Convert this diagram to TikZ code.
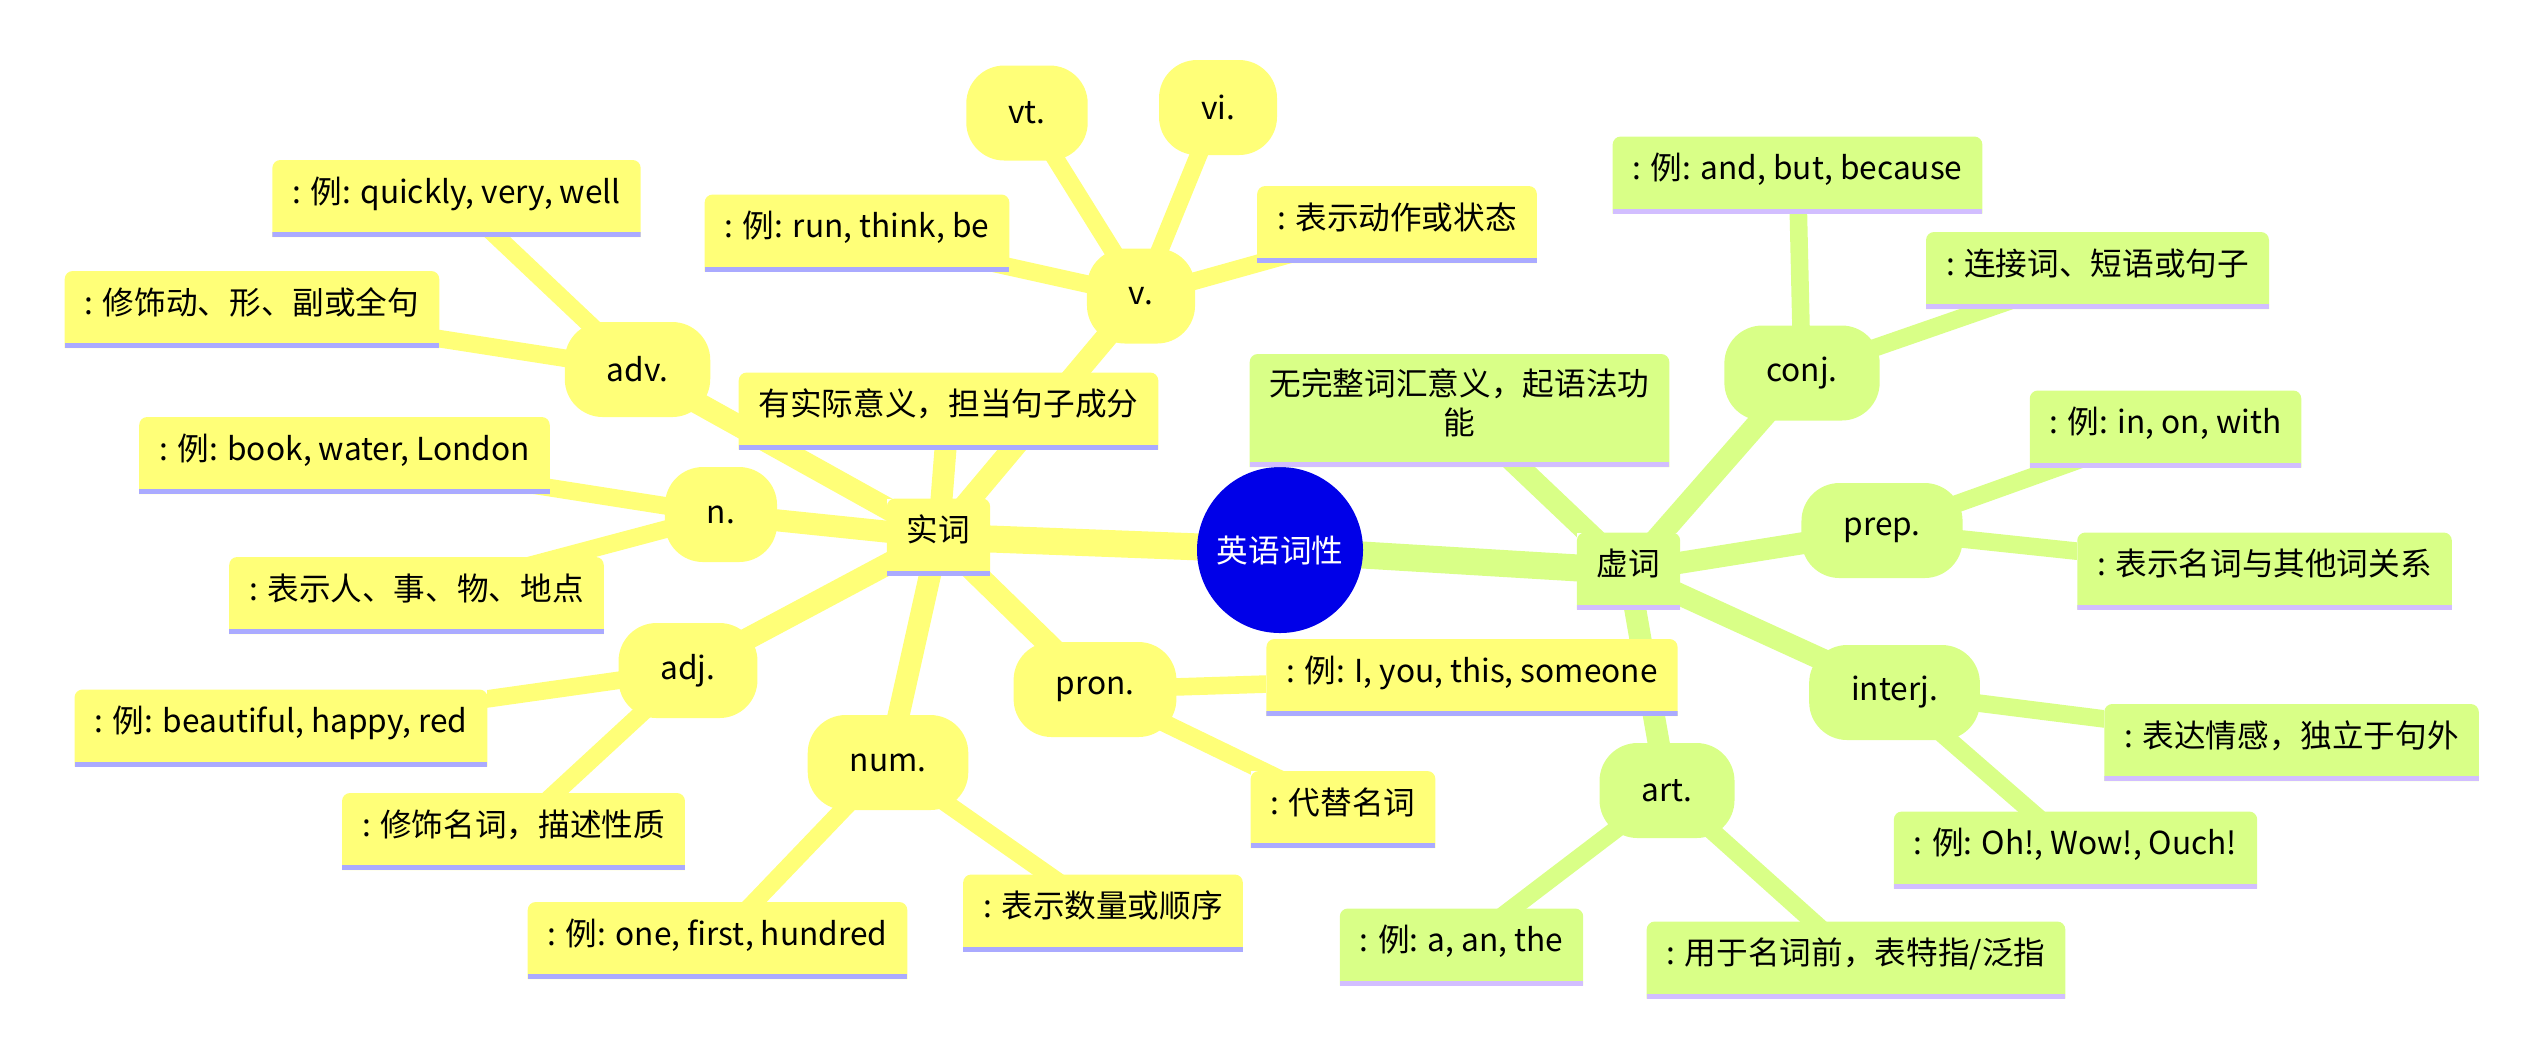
\documentclass[tikz,border=0pt]{standalone}
\usepackage{fontspec}
\setmainfont{Noto Sans CJK SC}
\usepackage{xcolor}
\definecolor{rootblue}{HTML}{0000E8}
\definecolor{shiyellow}{HTML}{FFFF78}
\definecolor{shibar}{HTML}{AAAAFF}
\definecolor{xugreen}{HTML}{D9FF87}
\definecolor{xubar}{HTML}{D2BEFF}
\usetikzlibrary{backgrounds}
\pgfdeclarelayer{edges}
\pgfsetlayers{edges,main}

\begin{document}
\begin{tikzpicture}[
  font=\fontsize{9}{11}\selectfont,
  leaf/.style 2 args={rectangle, inner xsep=0.2cm, inner ysep=0.05cm,
    text height=0.38cm, text depth=0.29cm, fill=white,
    path picture={
      \fill[#1] (path picture bounding box.south west)
        -- ([yshift=-0.08cm]path picture bounding box.north west)
        arc[start angle=180,end angle=90,radius=0.08cm]
        -- ([xshift=-0.08cm]path picture bounding box.north east)
        arc[start angle=90,end angle=0,radius=0.08cm]
        -- (path picture bounding box.south east) -- cycle;
      \fill[#2] (path picture bounding box.south west)
        rectangle ([yshift=0.05cm]path picture bounding box.south east);
    }},
  yleaf/.style={leaf={shiyellow}{shibar}},
  gleaf/.style={leaf={xugreen}{xubar}},
  sect/.style={rectangle, rounded corners=0.38cm, fill=#1,
    inner xsep=0.42cm, minimum height=0.95cm},
  edge0/.style={line width=0.27cm},
  edge1/.style={line width=0.22cm},
  edge2/.style={line width=0.176cm}
]
  \useasboundingbox (0,0) rectangle (25.44,-10.55);

  % Root
  \node[circle,fill=rootblue,text=white,minimum size=1.66cm,inner sep=0pt] (root) at (12.80,-5.50) {英语词性};

  % Content words
  \node[yleaf] (shi) at (9.385,-5.37) {实词};
  \node[yleaf] (shidesc) at (9.485,-4.11) {有实际意义，担当句子成分};

  \node[sect=shiyellow] (adv) at (6.375,-3.695) {adv.};
  \node[yleaf] (advex) at (4.565,-1.985) {: 例: quickly, very, well};
  \node[yleaf] (advdef) at (2.52,-3.095) {: 修饰动、形、副或全句};

  \node[sect=shiyellow] (n) at (7.21,-5.145) {n.};
  \node[yleaf] (nex) at (3.445,-4.555) {: 例: book, water, London};
  \node[yleaf] (ndef) at (4.165,-5.955) {: 表示人、事、物、地点};

  \node[sect=shiyellow] (adj) at (6.88,-6.705) {adj.};
  \node[yleaf] (adjex) at (2.81,-7.28) {: 例: beautiful, happy, red};
  \node[yleaf] (adjdef) at (5.135,-8.315) {: 修饰名词，描述性质};

  \node[sect=shiyellow] (num) at (8.88,-7.625) {num.};
  \node[yleaf] (numex) at (7.175,-9.405) {: 例: one, first, hundred};
  \node[yleaf] (numdef) at (11.03,-9.13) {: 表示数量或顺序};

  \node[sect=shiyellow] (pron) at (10.95,-6.895) {pron.};
  \node[yleaf] (pronex) at (14.72,-6.775) {: 例: I, you, this, someone};
  \node[yleaf] (prondef) at (13.43,-8.095) {: 代替名词};

  \node[sect=shiyellow] (v) at (11.41,-2.96) {v.};
  \node[yleaf] (vex) at (8.57,-2.33) {: 例: run, think, be};
  \node[yleaf] (vdef) at (13.97,-2.245) {: 表示动作或状态};
  \node[sect=shiyellow] (vt) at (10.27,-1.13) {vt.};
  \node[sect=shiyellow] (vi) at (12.18,-1.075) {vi.};

  % Function words
  \node[gleaf] (xu) at (16.285,-5.71) {虚词};
  \node[gleaf,text height=,text depth=,inner ysep=0.12cm,minimum height=1.13cm,align=center] (xudesc) at (14.595,-4.105)
    {无完整词汇意义，起语法功\\能\rule[-0.18cm]{0pt}{0.1cm}};

  \node[sect=xugreen] (conj) at (18.02,-3.73) {conj.};
  \node[gleaf] (conjex) at (17.975,-1.75) {: 例: and, but, because};
  \node[gleaf] (conjdef) at (20.975,-2.705) {: 连接词、短语或句子};

  \node[sect=xugreen] (prep) at (18.82,-5.305) {prep.};
  \node[gleaf] (prepex) at (21.655,-4.29) {: 例: in, on, with};
  \node[gleaf] (prepdef) at (22.645,-5.71) {: 表示名词与其他词关系};

  \node[sect=xugreen] (interj) at (18.945,-6.925) {interj.};
  \node[gleaf] (interjdef) at (22.915,-7.425) {: 表达情感，独立于句外};
  \node[gleaf] (interjex) at (20.755,-8.50) {: 例: Oh!, Wow!, Ouch!};

  \node[sect=xugreen] (art) at (16.67,-7.905) {art.};
  \node[gleaf] (artex) at (14.615,-9.47) {: 例: a, an, the};
  \node[gleaf] (artdef) at (18.56,-9.60) {: 用于名词前，表特指/泛指};

  % Branches
  \begin{pgfonlayer}{edges}
    \draw[edge0,shiyellow] (root.center) -- (shi.center);
    \draw[edge0,xugreen] (root.center) -- (xu.center);
    \foreach \b in {shidesc,adv,n,adj,num,pron,v}
      \draw[edge1,shiyellow] (shi.center) -- (\b.center);
    \foreach \b in {xudesc,conj,prep,interj,art}
      \draw[edge1,xugreen] (xu.center) -- (\b.center);
    \foreach \a/\b in {adv/advex,adv/advdef,n/nex,n/ndef,adj/adjex,adj/adjdef,num/numex,num/numdef,pron/pronex,pron/prondef,v/vex,v/vdef,v/vt,v/vi}
      \draw[edge2,shiyellow] (\a.center) -- (\b.center);
    \foreach \a/\b in {conj/conjex,conj/conjdef,prep/prepex,prep/prepdef,interj/interjdef,interj/interjex,art/artex,art/artdef}
      \draw[edge2,xugreen] (\a.center) -- (\b.center);
  \end{pgfonlayer}
\end{tikzpicture}
\end{document}
